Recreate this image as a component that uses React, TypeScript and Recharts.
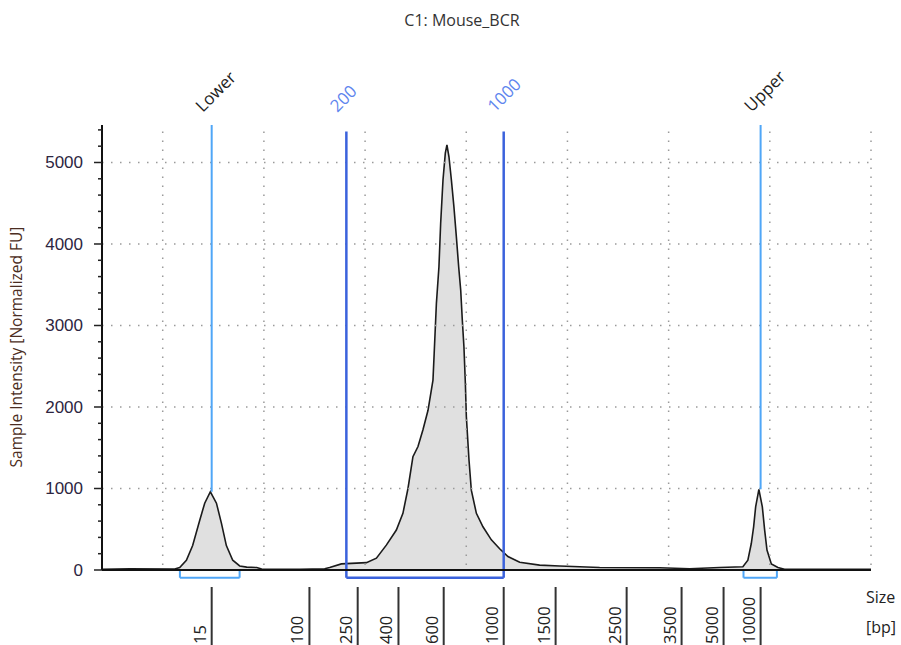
import { Area, ComposedChart, ReferenceLine, XAxis, YAxis } from "recharts";

const title = "C1: Mouse_BCR";

// migration time (s) and fluorescence of the trace
const time = [
  14.0, 16.74, 21.19, 21.68, 22.34, 22.96, 23.66, 24.15, 24.71, 25.31, 25.8, 26.29, 26.92, 27.61, 28.3, 29.29,
  29.78, 33.54, 36.01, 36.5, 37.66, 40.13, 41.12, 42.1, 43.09, 43.74, 44.24, 44.73, 45.23, 45.72, 46.22, 46.71,
  46.83, 47.05, 47.3, 47.47, 47.7, 47.93, 48.09, 48.29, 48.53, 48.78, 49.02, 49.25, 49.45, 49.61, 49.77, 49.91,
  50.01, 50.27, 50.5, 51.0, 51.65, 52.48, 53.3, 54.12, 55.28, 57.25, 59.23, 63.18, 69.11, 72.08, 75.04, 77.34,
  77.83, 78.17, 78.4, 78.6, 78.92, 79.26, 79.49, 79.72, 80.15, 80.8, 81.46, 90.0,
];
const fu = [
  10, 15, 12, 30, 120, 300, 610, 820, 960, 820, 575, 300, 120, 50, 35, 30,
  12, 10, 15, 30, 75, 90, 145, 305, 490, 695, 1000, 1390, 1515, 1720, 1960, 2330,
  2660, 3275, 3720, 4255, 4785, 5115, 5215, 5070, 4785, 4455, 4090, 3720, 3435, 3065, 2740, 2295,
  1880, 1350, 980, 695, 530, 370, 260, 165, 95, 60, 50, 30, 28, 15, 30, 40,
  120, 325, 530, 775, 990, 775, 490, 245, 75, 30, 10, 10,
];

const ladderBp = ["15", "100", "250", "400", "600", "1000", "1500", "2500", "3500", "5000", "10000"];
const ladderTime = [24.84, 34.5, 39.27, 43.3, 47.77, 53.7, 58.83, 65.85, 71.28, 75.43, 79.09];

const yTicks = [0, 200, 400, 600, 800, 1000, 1200, 1400, 1600, 1800, 2000, 2200, 2400, 2600, 2800, 3000, 3200, 3400, 3600, 3800, 4000, 4200, 4400, 4600, 4800, 5000, 5200, 5400];
const gridX = [20, 30, 40, 50, 60, 70, 80, 90];
const gridY = [1000, 2000, 3000, 4000, 5000];

const markerLower = { name: "Lower", t: 24.84, win: [21.7, 27.6] };
const markerUpper = { name: "Upper", t: 79.09, win: [77.4, 80.7] };
const regionFrom = { name: "200", t: 38.15 };
const regionTo = { name: "1000", t: 53.7 };

const data = time.map((t, i) => ({ t, fu: fu[i] }));
const Y_MAX = 5460;
const BELOW = -95;
const FONT = "'Segoe UI', 'Open Sans', sans-serif";

const peakIn = (w: number[]) => Math.max(...data.filter((d) => d.t >= w[0] && d.t <= w[1]).map((d) => d.fu));

const topLabel = (text: string, color: string) => (p: any) => {
  const x = p.viewBox.x - 9;
  const y = 113;
  return (
    <text x={x} y={y} transform={`rotate(-45 ${x} ${y})`} fill={color} fontSize={17} fontFamily={FONT}>
      {text}
    </text>
  );
};

const YTick = (p: any) => {
  const major = p.payload.value % 1000 === 0;
  return (
    <g>
      <line x1={p.x - (major ? 8 : 4)} x2={p.x} y1={p.y} y2={p.y} stroke="#222" strokeWidth={1.5} />
      {major && (
        <text x={p.x - 19} y={p.y + 6} textAnchor="end" fill="#2d2540" fontSize={17} fontFamily="'Liberation Sans', Arial">
          {p.payload.value}
        </text>
      )}
    </g>
  );
};

const XTick = (p: any) => {
  const label = ladderBp[ladderTime.indexOf(p.payload.value)];
  const lx = p.x - 6;
  const ly = p.y + 74;
  return (
    <g>
      <line x1={p.x} x2={p.x} y1={p.y + 17} y2={p.y + 80} stroke="#333" strokeWidth={2} />
      <text x={lx} y={ly} transform={`rotate(-90 ${lx} ${ly})`} fill="#222" fontSize={16.5} fontFamily={FONT}>
        {label}
      </text>
    </g>
  );
};

export default function App() {
  const lightBlue = "#4fa6f7";
  const blue = "#3b62dc";
  const dotted = { stroke: "#9a9a9a", strokeWidth: 1.5, strokeDasharray: "1.5 7.5" };
  return (
    <div style={{ position: "absolute", left: 0, top: 0, width: 901, height: 645, background: "#fff" }}>
      <ComposedChart width={901} height={645} data={data} margin={{ top: 125, right: 30, bottom: 5, left: 42 }}>
        <text x={462} y={26} textAnchor="middle" fill="#333" fontSize={16} fontFamily={FONT}>
          {title}
        </text>
        <text
          x={22}
          y={347}
          textAnchor="middle"
          transform="rotate(-90 22 347)"
          fill="#4b2d22"
          fontSize={15.5}
          fontFamily={FONT}
        >
          Sample Intensity [Normalized FU]
        </text>
        <text x={866} y={603} fill="#222" fontSize={16} fontFamily={FONT}>Size</text>
        <text x={866} y={633} fill="#222" fontSize={16} fontFamily={FONT}>[bp]</text>
        <XAxis
          type="number"
          dataKey="t"
          domain={[14, 90]}
          ticks={ladderTime}
          interval={0}
          tick={<XTick />}
          tickLine={false}
          tickSize={0}
          tickMargin={0}
          height={70}
          axisLine={{ stroke: "#111", strokeWidth: 2 }}
          allowDataOverflow
        />
        <YAxis
          type="number"
          domain={[0, Y_MAX]}
          ticks={yTicks}
          interval={0}
          tick={<YTick />}
          tickLine={false}
          tickSize={0}
          tickMargin={0}
          width={60}
          axisLine={{ stroke: "#111", strokeWidth: 2 }}
          allowDataOverflow
        />
        {gridX.map((g) => (
          <ReferenceLine key={"gx" + g} segment={[{ x: g, y: 5380 }, { x: g, y: 0 }]} {...dotted} ifOverflow="visible" />
        ))}
        {gridY.map((g) => (
          <ReferenceLine key={"gy" + g} y={g} {...dotted} />
        ))}
        <Area
          type="linear"
          dataKey="fu"
          stroke="#1b1b1b"
          strokeWidth={1.6}
          fill="#e0e0e0"
          fillOpacity={1}
          isAnimationActive={false}
          dot={false}
          activeDot={false}
        />
        {[markerLower, markerUpper].map((m) => (
          <ReferenceLine
            key={m.name}
            segment={[{ x: m.t, y: Y_MAX }, { x: m.t, y: peakIn(m.win) }]}
            stroke={lightBlue}
            strokeWidth={2}
            ifOverflow="visible"
            label={topLabel(m.name, "#222")}
          />
        ))}
        {[markerLower, markerUpper].map((m) => (
          <ReferenceLine
            key={m.name + "b"}
            segment={[{ x: m.win[0], y: BELOW }, { x: m.win[1], y: BELOW }]}
            stroke={lightBlue}
            strokeWidth={2}
            ifOverflow="visible"
          />
        ))}
        {[markerLower, markerUpper].flatMap((m) =>
          m.win.map((w) => (
            <ReferenceLine
              key={m.name + w}
              segment={[{ x: w, y: 0 }, { x: w, y: BELOW }]}
              stroke={lightBlue}
              strokeWidth={2}
              ifOverflow="visible"
            />
          ))
        )}
        {[regionFrom, regionTo].map((m) => (
          <ReferenceLine
            key={m.name}
            segment={[{ x: m.t, y: 5380 }, { x: m.t, y: BELOW }]}
            stroke={blue}
            strokeWidth={2.5}
            ifOverflow="visible"
            label={topLabel(m.name, "#5f86ee")}
          />
        ))}
        <ReferenceLine
          segment={[{ x: regionFrom.t, y: BELOW }, { x: regionTo.t, y: BELOW }]}
          stroke={blue}
          strokeWidth={2.5}
          ifOverflow="visible"
        />
      </ComposedChart>
    </div>
  );
}
